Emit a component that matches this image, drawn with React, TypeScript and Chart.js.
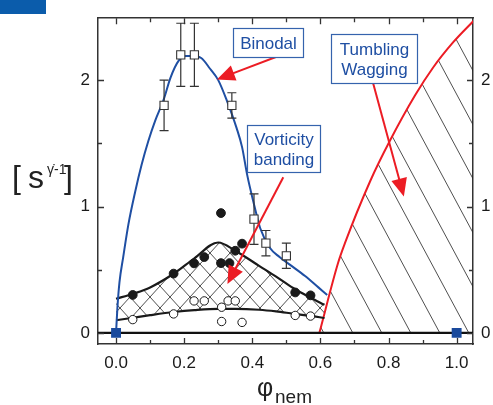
import React, { useEffect, useRef } from "react";
import { Chart, registerables } from "chart.js";
Chart.register(...registerables);

const X_MIN = -0.053;
const X_MAX = 1.048;
const Y_MIN = -0.088;
const Y_MAX = 2.49;

const xTicks = [0, 0.1, 0.2, 0.3, 0.4, 0.5, 0.6, 0.7, 0.8, 0.9, 1.0];
const yTicks = [0, 0.5, 1, 1.5, 2];

// Binodal measurements (open squares with error bars)
const binodalX = [0.141, 0.19, 0.23, 0.34, 0.405, 0.44, 0.5];
const binodalY = [1.8, 2.2, 2.2, 1.8, 0.9, 0.71, 0.61];
const binodalErr = [0.2, 0.25, 0.25, 0.1, 0.2, 0.1, 0.1];

// Vorticity banding upper limit (filled circles)
const filledX = [0.049, 0.169, 0.229, 0.259, 0.308, 0.308, 0.333, 0.35, 0.37, 0.526, 0.571];
const filledY = [0.3, 0.469, 0.55, 0.6, 0.948, 0.552, 0.552, 0.65, 0.706, 0.32, 0.297];

// Vorticity banding lower limit (open circles)
const openX = [0.049, 0.169, 0.229, 0.259, 0.31, 0.31, 0.329, 0.35, 0.37, 0.526, 0.571];
const openY = [0.105, 0.15, 0.253, 0.253, 0.203, 0.09, 0.253, 0.253, 0.083, 0.138, 0.133];

// Pure-component end points
const endX = [0, 1];
const endY = [0, 0];

// Binodal guide curve
const binodalCurveX = [0, 0.004, 0.01, 0.021, 0.036, 0.056, 0.075, 0.095, 0.115, 0.139, 0.16, 0.183, 0.205, 0.225, 0.25, 0.276, 0.3, 0.325, 0.354, 0.37, 0.385, 0.403, 0.423, 0.452, 0.48, 0.51, 0.555, 0.594, 0.62];
const binodalCurveY = [0, 0.2, 0.4, 0.6, 0.855, 1.115, 1.33, 1.52, 1.68, 1.84, 2.02, 2.15, 2.19, 2.19, 2.175, 2.09, 2.0, 1.84, 1.62, 1.47, 1.25, 1.04, 0.83, 0.672, 0.6, 0.54, 0.45, 0.36, 0.3];

// Vorticity banding boundaries
const bandX = [0, 0.05, 0.1, 0.17, 0.23, 0.3, 0.35, 0.42, 0.47, 0.52, 0.57, 0.612];
const bandUpperY = [0.27, 0.31, 0.36, 0.47, 0.59, 0.715, 0.65, 0.53, 0.445, 0.355, 0.28, 0.222];
const bandLowerY = [0.1, 0.12, 0.14, 0.165, 0.18, 0.19, 0.19, 0.183, 0.17, 0.152, 0.135, 0.118];

// Tumbling / wagging boundary
const tumbleX = [0.597, 0.652, 0.672, 0.746, 0.804, 0.878, 0.931, 0.99, 1.05];
const tumbleY = [0, 0.555, 0.71, 1.2, 1.52, 1.88, 2.1, 2.3, 2.47];

// Zero line
const zeroX = [X_MIN, X_MAX];
const zeroY = [0, 0];

// Annotation boxes (data units): x1, y1 (top), x2, y2 (bottom)
const boxBinodal = [0.343, 2.41, 0.549, 2.185];
const boxVorticity = [0.385, 1.646, 0.599, 1.271];
const boxTumbling = [0.631, 2.365, 0.883, 1.974];
const textBinodal = ["Binodal"];
const textVorticity = ["Vorticity", "banding"];
const textTumbling = ["Tumbling", "Wagging"];
// Arrows: from (x, y) to tip (x, y)
const arrowBinodal = [0.481, 2.195, 0.296, 2.005];
const arrowVorticity = [0.491, 1.232, 0.327, 0.386];
const arrowTumbling = [0.755, 1.974, 0.845, 1.08];

const FONT = "'Liberation Sans', Arial, Helvetica, sans-serif";
const BLUE = "#1f4fa3";
const RED = "#ec1c24";
const INK = "#1a1a1a";

const pts = (xs: number[], ys: number[]) => xs.map((x, i) => ({ x, y: ys[i] }));

function makePattern(w: number, h: number, cross: boolean): CanvasPattern | string {
  const c = document.createElement("canvas");
  c.width = w;
  c.height = h;
  const g = c.getContext("2d");
  if (!g) return "rgba(0,0,0,0)";
  g.strokeStyle = "#222";
  g.lineWidth = 0.8;
  g.beginPath();
  for (const dx of [-w, 0, w]) {
    g.moveTo(dx, 0);
    g.lineTo(dx + w, h);
    if (cross) {
      g.moveTo(dx + w, 0);
      g.lineTo(dx, h);
    }
  }
  g.stroke();
  const p = g.createPattern(c, "repeat");
  return p || "rgba(0,0,0,0)";
}

const errorBarPlugin = {
  id: "errorBars",
  beforeDatasetDraw(chart: any, args: any) {
    if (args.index !== 3) return;
    const { ctx, scales } = chart;
    const xs = scales.x;
    const ys = scales.y;
    ctx.save();
    ctx.strokeStyle = "#333";
    ctx.lineWidth = 1.2;
    binodalX.forEach((xv, i) => {
      const px = xs.getPixelForValue(xv);
      const top = ys.getPixelForValue(binodalY[i] + binodalErr[i]);
      const bot = ys.getPixelForValue(binodalY[i] - binodalErr[i]);
      ctx.beginPath();
      ctx.moveTo(px, top);
      ctx.lineTo(px, bot);
      ctx.moveTo(px - 4.5, top);
      ctx.lineTo(px + 4.5, top);
      ctx.moveTo(px - 4.5, bot);
      ctx.lineTo(px + 4.5, bot);
      ctx.stroke();
    });
    ctx.restore();
  },
};

function drawArrow(ctx: CanvasRenderingContext2D, x1: number, y1: number, x2: number, y2: number) {
  const ang = Math.atan2(y2 - y1, x2 - x1);
  const hl = 18;
  const hw = 8;
  const bx = x2 - hl * Math.cos(ang);
  const by = y2 - hl * Math.sin(ang);
  ctx.strokeStyle = RED;
  ctx.fillStyle = RED;
  ctx.lineWidth = 2;
  ctx.beginPath();
  ctx.moveTo(x1, y1);
  ctx.lineTo(bx + 3 * Math.cos(ang), by + 3 * Math.sin(ang));
  ctx.stroke();
  ctx.beginPath();
  ctx.moveTo(x2, y2);
  ctx.lineTo(bx + hw * Math.sin(ang), by - hw * Math.cos(ang));
  ctx.lineTo(bx - hw * Math.sin(ang), by + hw * Math.cos(ang));
  ctx.closePath();
  ctx.fill();
}

const annotationPlugin = {
  id: "annotations",
  afterDatasetsDraw(chart: any) {
    const { ctx, scales } = chart;
    const xs = scales.x;
    const ys = scales.y;
    const X = (v: number) => xs.getPixelForValue(v);
    const Y = (v: number) => ys.getPixelForValue(v);
    ctx.save();
    const arrows = [arrowBinodal, arrowVorticity, arrowTumbling];
    arrows.forEach((a) => drawArrow(ctx, X(a[0]), Y(a[1]), X(a[2]), Y(a[3])));
    const boxes: [number[], string[]][] = [
      [boxBinodal, textBinodal],
      [boxVorticity, textVorticity],
      [boxTumbling, textTumbling],
    ];
    boxes.forEach(([b, lines]) => {
      const l = Math.round(X(b[0])) + 0.5;
      const t = Math.round(Y(b[1])) + 0.5;
      const r = Math.round(X(b[2])) + 0.5;
      const bt = Math.round(Y(b[3])) + 0.5;
      ctx.fillStyle = "#fff";
      ctx.fillRect(l, t, r - l, bt - t);
      ctx.strokeStyle = "#3563ad";
      ctx.lineWidth = 1.2;
      ctx.strokeRect(l, t, r - l, bt - t);
      ctx.fillStyle = BLUE;
      ctx.font = `17px ${FONT}`;
      ctx.textAlign = "center";
      ctx.textBaseline = "alphabetic";
      const cx = (l + r) / 2;
      const cy = (t + bt) / 2;
      const lh = 20;
      const n = lines.length;
      lines.forEach((s, i) => {
        const base = cy + (i - (n - 1) / 2) * lh + 6;
        ctx.fillText(s, cx, base);
      });
    });
    ctx.restore();
  },
};

const frameDecorPlugin = {
  id: "frameDecor",
  afterDraw(chart: any) {
    const { ctx, chartArea: ca, scales } = chart;
    const xs = scales.x;
    const ys = scales.y;
    ctx.save();
    ctx.strokeStyle = "#333";
    ctx.lineWidth = 1.3;
    ctx.beginPath();
    xTicks.forEach((v, i) => {
      const px = Math.round(xs.getPixelForValue(v)) + 0.5;
      const len = i % 2 === 0 ? 6 : 4;
      ctx.moveTo(px, ca.bottom);
      ctx.lineTo(px, ca.bottom - len);
      ctx.moveTo(px, ca.top);
      ctx.lineTo(px, ca.top + len);
    });
    yTicks.forEach((v, i) => {
      const py = Math.round(ys.getPixelForValue(v)) + 0.5;
      const len = i % 2 === 0 ? 6 : 4;
      ctx.moveTo(ca.left, py);
      ctx.lineTo(ca.left + len, py);
      ctx.moveTo(ca.right, py);
      ctx.lineTo(ca.right - len, py);
    });
    ctx.stroke();

    // corner badge
    ctx.fillStyle = "#0b5cab";
    ctx.fillRect(0, 0, 46, 14);

    // y-axis title
    ctx.fillStyle = "#222";
    ctx.textAlign = "left";
    ctx.textBaseline = "alphabetic";
    ctx.font = `32px ${FONT}`;
    ctx.fillText("[", 12, 188);
    ctx.fillText("s", 28, 188);
    ctx.font = `14px ${FONT}`;
    ctx.fillText("\u03B3\u0307-1", 47, 174);
    ctx.font = `32px ${FONT}`;
    ctx.fillText("]", 64, 188);

    // x-axis title
    ctx.font = `25px ${FONT}`;
    ctx.fillText("\u03C6", 257, 396);
    ctx.font = `19px ${FONT}`;
    ctx.fillText("nem", 275, 403);
    ctx.restore();
  },
};

export default function App() {
  const ref = useRef<HTMLCanvasElement | null>(null);
  useEffect(() => {
    if (!ref.current) return;
    const crossPattern = makePattern(20, 22, true);
    const diagPattern = makePattern(29, 54, false);
    const tickFont = { family: FONT, size: 17 };
    const chart = new Chart(ref.current, {
      type: "line",
      data: {
        datasets: [
          {
            label: "ends",
            data: pts(endX, endY),
            showLine: false,
            pointStyle: "rect",
            pointRadius: 7,
            pointBackgroundColor: "#1a4a9c",
            pointBorderColor: "#1a4a9c",
            pointBorderWidth: 0,
          },
          {
            label: "filled",
            data: pts(filledX, filledY),
            showLine: false,
            pointStyle: "circle",
            pointRadius: 4.4,
            pointBackgroundColor: INK,
            pointBorderColor: INK,
            pointBorderWidth: 1,
          },
          {
            label: "open",
            data: pts(openX, openY),
            showLine: false,
            pointStyle: "circle",
            pointRadius: 4.2,
            pointBackgroundColor: "#fff",
            pointBorderColor: INK,
            pointBorderWidth: 1,
          },
          {
            label: "binodal",
            data: pts(binodalX, binodalY),
            showLine: false,
            pointStyle: "rect",
            pointRadius: 5.8,
            pointBackgroundColor: "#fff",
            pointBorderColor: "#333",
            pointBorderWidth: 1.1,
          },
          {
            label: "zero",
            data: pts(zeroX, zeroY),
            borderColor: "#111",
            borderWidth: 2.2,
            pointRadius: 0,
            fill: false,
          },
          {
            label: "binodalCurve",
            data: pts(binodalCurveX, binodalCurveY),
            borderColor: BLUE,
            borderWidth: 2,
            pointRadius: 0,
            cubicInterpolationMode: "monotone",
            fill: false,
          },
          {
            label: "bandUpper",
            data: pts(bandX, bandUpperY),
            borderColor: INK,
            borderWidth: 2.2,
            pointRadius: 0,
            cubicInterpolationMode: "monotone",
            fill: "+1",
            backgroundColor: crossPattern as any,
          },
          {
            label: "bandLower",
            data: pts(bandX, bandLowerY),
            borderColor: INK,
            borderWidth: 2.2,
            pointRadius: 0,
            cubicInterpolationMode: "monotone",
            fill: false,
          },
          {
            label: "tumble",
            data: pts(tumbleX, tumbleY),
            borderColor: RED,
            borderWidth: 2,
            pointRadius: 0,
            cubicInterpolationMode: "monotone",
            fill: "origin",
            backgroundColor: diagPattern as any,
          },
        ],
      },
      options: {
        responsive: false,
        animation: false,
        events: [],
        layout: { padding: 0 },
        plugins: {
          legend: { display: false },
          tooltip: { enabled: false },
        },
        scales: {
          x: {
            type: "linear",
            position: "bottom",
            min: X_MIN,
            max: X_MAX,
            afterBuildTicks: (s: any) => {
              s.ticks = xTicks.map((v) => ({ value: v }));
            },
            afterFit: (s: any) => {
              s.height = 61;
            },
            grid: { display: true, drawOnChartArea: false, drawTicks: false },
            border: { display: true, color: "#333", width: 1.5 },
            ticks: {
              padding: 9,
              color: "#1a1a1a",
              font: tickFont,
              maxRotation: 0,
              autoSkip: false,
              callback: (v: any) => {
                const n = Math.round(Number(v) * 10);
                return n % 2 === 0 ? (n / 10).toFixed(1) : "";
              },
            },
          },
          x2: {
            type: "linear",
            position: "top",
            min: X_MIN,
            max: X_MAX,
            afterFit: (s: any) => {
              s.height = 14;
            },
            grid: { display: true, drawOnChartArea: false, drawTicks: false },
            border: { display: true, color: "#333", width: 1.5 },
            ticks: { display: false },
          },
          y: {
            type: "linear",
            position: "left",
            min: Y_MIN,
            max: Y_MAX,
            afterBuildTicks: (s: any) => {
              s.ticks = yTicks.map((v) => ({ value: v }));
            },
            afterFit: (s: any) => {
              s.width = 98;
            },
            grid: { display: true, drawOnChartArea: false, drawTicks: false },
            border: { display: true, color: "#333", width: 1.5 },
            ticks: {
              padding: 8,
              color: "#1a1a1a",
              font: tickFont,
              autoSkip: false,
              callback: (v: any) => (Number.isInteger(Number(v)) ? String(v) : ""),
            },
          },
          y2: {
            type: "linear",
            position: "right",
            min: Y_MIN,
            max: Y_MAX,
            afterBuildTicks: (s: any) => {
              s.ticks = yTicks.map((v) => ({ value: v }));
            },
            afterFit: (s: any) => {
              s.width = 20;
            },
            grid: { display: true, drawOnChartArea: false, drawTicks: false },
            border: { display: true, color: "#333", width: 1.5 },
            ticks: {
              padding: 8,
              color: "#1a1a1a",
              font: tickFont,
              autoSkip: false,
              callback: (v: any) => (Number.isInteger(Number(v)) ? String(v) : ""),
            },
          },
        },
      },
      plugins: [errorBarPlugin, annotationPlugin, frameDecorPlugin],
    } as any);
    return () => chart.destroy();
  }, []);
  return (
    <div style={{ position: "absolute", left: 0, top: 0, width: 493, height: 405, background: "#fff" }}>
      <canvas ref={ref} width={493} height={405} style={{ display: "block" }} />
    </div>
  );
}
